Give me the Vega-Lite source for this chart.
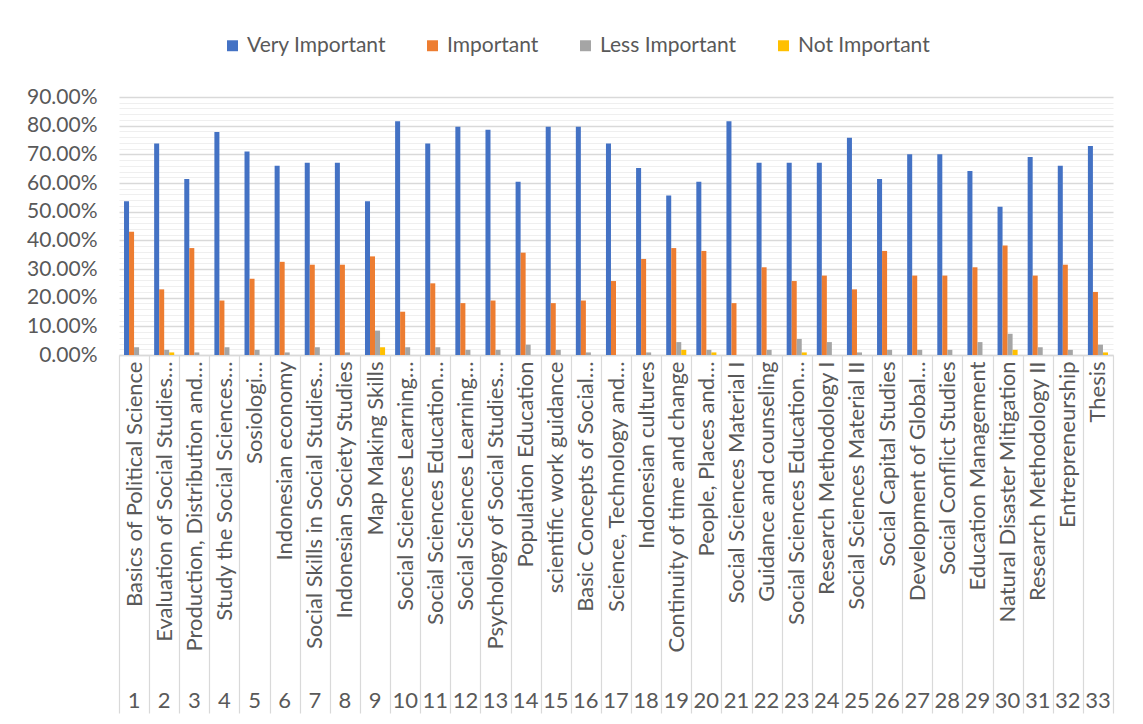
{
  "$schema": "https://vega.github.io/schema/vega-lite/v6.json",
  "width": 994,
  "height": 258,
  "autosize": "none",
  "padding": {"left": 119, "top": 97, "right": 30, "bottom": 369},
  "background": "white",
  "config": {
    "font": "Lato",
    "view": {"stroke": null},
    "axis": {"labelColor": "#595959", "labelFont": "Lato", "title": null}
  },
  "datasets": {
    "ratings": [
      {"no": 1, "key": "1|Basics of Political Science", "level": "Very Important", "share": 0.536},
      {"no": 1, "key": "1|Basics of Political Science", "level": "Important", "share": 0.430},
      {"no": 1, "key": "1|Basics of Political Science", "level": "Less Important", "share": 0.027},
      {"no": 1, "key": "1|Basics of Political Science", "level": "Not Important", "share": 0},
      {"no": 2, "key": "2|Evaluation of Social Studies…", "level": "Very Important", "share": 0.738},
      {"no": 2, "key": "2|Evaluation of Social Studies…", "level": "Important", "share": 0.229},
      {"no": 2, "key": "2|Evaluation of Social Studies…", "level": "Less Important", "share": 0.018},
      {"no": 2, "key": "2|Evaluation of Social Studies…", "level": "Not Important", "share": 0.009},
      {"no": 3, "key": "3|Production, Distribution and…", "level": "Very Important", "share": 0.614},
      {"no": 3, "key": "3|Production, Distribution and…", "level": "Important", "share": 0.373},
      {"no": 3, "key": "3|Production, Distribution and…", "level": "Less Important", "share": 0.009},
      {"no": 3, "key": "3|Production, Distribution and…", "level": "Not Important", "share": 0},
      {"no": 4, "key": "4|Study the Social Sciences…", "level": "Very Important", "share": 0.778},
      {"no": 4, "key": "4|Study the Social Sciences…", "level": "Important", "share": 0.190},
      {"no": 4, "key": "4|Study the Social Sciences…", "level": "Less Important", "share": 0.027},
      {"no": 4, "key": "4|Study the Social Sciences…", "level": "Not Important", "share": 0},
      {"no": 5, "key": "5|Sosiologi…", "level": "Very Important", "share": 0.710},
      {"no": 5, "key": "5|Sosiologi…", "level": "Important", "share": 0.266},
      {"no": 5, "key": "5|Sosiologi…", "level": "Less Important", "share": 0.018},
      {"no": 5, "key": "5|Sosiologi…", "level": "Not Important", "share": 0},
      {"no": 6, "key": "6|Indonesian economy", "level": "Very Important", "share": 0.660},
      {"no": 6, "key": "6|Indonesian economy", "level": "Important", "share": 0.325},
      {"no": 6, "key": "6|Indonesian economy", "level": "Less Important", "share": 0.009},
      {"no": 6, "key": "6|Indonesian economy", "level": "Not Important", "share": 0},
      {"no": 7, "key": "7|Social Skills in Social Studies…", "level": "Very Important", "share": 0.671},
      {"no": 7, "key": "7|Social Skills in Social Studies…", "level": "Important", "share": 0.315},
      {"no": 7, "key": "7|Social Skills in Social Studies…", "level": "Less Important", "share": 0.027},
      {"no": 7, "key": "7|Social Skills in Social Studies…", "level": "Not Important", "share": 0},
      {"no": 8, "key": "8|Indonesian Society Studies", "level": "Very Important", "share": 0.671},
      {"no": 8, "key": "8|Indonesian Society Studies", "level": "Important", "share": 0.315},
      {"no": 8, "key": "8|Indonesian Society Studies", "level": "Less Important", "share": 0.009},
      {"no": 8, "key": "8|Indonesian Society Studies", "level": "Not Important", "share": 0},
      {"no": 9, "key": "9|Map Making Skills", "level": "Very Important", "share": 0.536},
      {"no": 9, "key": "9|Map Making Skills", "level": "Important", "share": 0.344},
      {"no": 9, "key": "9|Map Making Skills", "level": "Less Important", "share": 0.085},
      {"no": 9, "key": "9|Map Making Skills", "level": "Not Important", "share": 0.027},
      {"no": 10, "key": "10|Social Sciences Learning…", "level": "Very Important", "share": 0.815},
      {"no": 10, "key": "10|Social Sciences Learning…", "level": "Important", "share": 0.151},
      {"no": 10, "key": "10|Social Sciences Learning…", "level": "Less Important", "share": 0.027},
      {"no": 10, "key": "10|Social Sciences Learning…", "level": "Not Important", "share": 0},
      {"no": 11, "key": "11|Social Sciences Education…", "level": "Very Important", "share": 0.738},
      {"no": 11, "key": "11|Social Sciences Education…", "level": "Important", "share": 0.250},
      {"no": 11, "key": "11|Social Sciences Education…", "level": "Less Important", "share": 0.027},
      {"no": 11, "key": "11|Social Sciences Education…", "level": "Not Important", "share": 0},
      {"no": 12, "key": "12|Social Sciences Learning…", "level": "Very Important", "share": 0.796},
      {"no": 12, "key": "12|Social Sciences Learning…", "level": "Important", "share": 0.181},
      {"no": 12, "key": "12|Social Sciences Learning…", "level": "Less Important", "share": 0.018},
      {"no": 12, "key": "12|Social Sciences Learning…", "level": "Not Important", "share": 0},
      {"no": 13, "key": "13|Psychology of Social Studies…", "level": "Very Important", "share": 0.786},
      {"no": 13, "key": "13|Psychology of Social Studies…", "level": "Important", "share": 0.190},
      {"no": 13, "key": "13|Psychology of Social Studies…", "level": "Less Important", "share": 0.018},
      {"no": 13, "key": "13|Psychology of Social Studies…", "level": "Not Important", "share": 0},
      {"no": 14, "key": "14|Population Education", "level": "Very Important", "share": 0.604},
      {"no": 14, "key": "14|Population Education", "level": "Important", "share": 0.357},
      {"no": 14, "key": "14|Population Education", "level": "Less Important", "share": 0.036},
      {"no": 14, "key": "14|Population Education", "level": "Not Important", "share": 0},
      {"no": 15, "key": "15|scientific work guidance", "level": "Very Important", "share": 0.796},
      {"no": 15, "key": "15|scientific work guidance", "level": "Important", "share": 0.181},
      {"no": 15, "key": "15|scientific work guidance", "level": "Less Important", "share": 0.018},
      {"no": 15, "key": "15|scientific work guidance", "level": "Not Important", "share": 0},
      {"no": 16, "key": "16|Basic Concepts of Social…", "level": "Very Important", "share": 0.796},
      {"no": 16, "key": "16|Basic Concepts of Social…", "level": "Important", "share": 0.190},
      {"no": 16, "key": "16|Basic Concepts of Social…", "level": "Less Important", "share": 0.009},
      {"no": 16, "key": "16|Basic Concepts of Social…", "level": "Not Important", "share": 0},
      {"no": 17, "key": "17|Science, Technology and…", "level": "Very Important", "share": 0.738},
      {"no": 17, "key": "17|Science, Technology and…", "level": "Important", "share": 0.258},
      {"no": 17, "key": "17|Science, Technology and…", "level": "Less Important", "share": 0},
      {"no": 17, "key": "17|Science, Technology and…", "level": "Not Important", "share": 0},
      {"no": 18, "key": "18|Indonesian cultures", "level": "Very Important", "share": 0.652},
      {"no": 18, "key": "18|Indonesian cultures", "level": "Important", "share": 0.335},
      {"no": 18, "key": "18|Indonesian cultures", "level": "Less Important", "share": 0.009},
      {"no": 18, "key": "18|Indonesian cultures", "level": "Not Important", "share": 0},
      {"no": 19, "key": "19|Continuity of time and change", "level": "Very Important", "share": 0.556},
      {"no": 19, "key": "19|Continuity of time and change", "level": "Important", "share": 0.373},
      {"no": 19, "key": "19|Continuity of time and change", "level": "Less Important", "share": 0.045},
      {"no": 19, "key": "19|Continuity of time and change", "level": "Not Important", "share": 0.018},
      {"no": 20, "key": "20|People, Places and…", "level": "Very Important", "share": 0.604},
      {"no": 20, "key": "20|People, Places and…", "level": "Important", "share": 0.363},
      {"no": 20, "key": "20|People, Places and…", "level": "Less Important", "share": 0.018},
      {"no": 20, "key": "20|People, Places and…", "level": "Not Important", "share": 0.009},
      {"no": 21, "key": "21|Social Sciences Material I", "level": "Very Important", "share": 0.815},
      {"no": 21, "key": "21|Social Sciences Material I", "level": "Important", "share": 0.181},
      {"no": 21, "key": "21|Social Sciences Material I", "level": "Less Important", "share": 0},
      {"no": 21, "key": "21|Social Sciences Material I", "level": "Not Important", "share": 0},
      {"no": 22, "key": "22|Guidance and counseling", "level": "Very Important", "share": 0.671},
      {"no": 22, "key": "22|Guidance and counseling", "level": "Important", "share": 0.306},
      {"no": 22, "key": "22|Guidance and counseling", "level": "Less Important", "share": 0.018},
      {"no": 22, "key": "22|Guidance and counseling", "level": "Not Important", "share": 0},
      {"no": 23, "key": "23|Social Sciences Education…", "level": "Very Important", "share": 0.671},
      {"no": 23, "key": "23|Social Sciences Education…", "level": "Important", "share": 0.258},
      {"no": 23, "key": "23|Social Sciences Education…", "level": "Less Important", "share": 0.056},
      {"no": 23, "key": "23|Social Sciences Education…", "level": "Not Important", "share": 0.009},
      {"no": 24, "key": "24|Research Methodology I", "level": "Very Important", "share": 0.671},
      {"no": 24, "key": "24|Research Methodology I", "level": "Important", "share": 0.277},
      {"no": 24, "key": "24|Research Methodology I", "level": "Less Important", "share": 0.045},
      {"no": 24, "key": "24|Research Methodology I", "level": "Not Important", "share": 0},
      {"no": 25, "key": "25|Social Sciences Material II", "level": "Very Important", "share": 0.758},
      {"no": 25, "key": "25|Social Sciences Material II", "level": "Important", "share": 0.229},
      {"no": 25, "key": "25|Social Sciences Material II", "level": "Less Important", "share": 0.009},
      {"no": 25, "key": "25|Social Sciences Material II", "level": "Not Important", "share": 0},
      {"no": 26, "key": "26|Social Capital Studies", "level": "Very Important", "share": 0.614},
      {"no": 26, "key": "26|Social Capital Studies", "level": "Important", "share": 0.363},
      {"no": 26, "key": "26|Social Capital Studies", "level": "Less Important", "share": 0.018},
      {"no": 26, "key": "26|Social Capital Studies", "level": "Not Important", "share": 0},
      {"no": 27, "key": "27|Development of Global…", "level": "Very Important", "share": 0.700},
      {"no": 27, "key": "27|Development of Global…", "level": "Important", "share": 0.277},
      {"no": 27, "key": "27|Development of Global…", "level": "Less Important", "share": 0.018},
      {"no": 27, "key": "27|Development of Global…", "level": "Not Important", "share": 0},
      {"no": 28, "key": "28|Social Conflict Studies", "level": "Very Important", "share": 0.700},
      {"no": 28, "key": "28|Social Conflict Studies", "level": "Important", "share": 0.277},
      {"no": 28, "key": "28|Social Conflict Studies", "level": "Less Important", "share": 0.018},
      {"no": 28, "key": "28|Social Conflict Studies", "level": "Not Important", "share": 0},
      {"no": 29, "key": "29|Education Management", "level": "Very Important", "share": 0.642},
      {"no": 29, "key": "29|Education Management", "level": "Important", "share": 0.306},
      {"no": 29, "key": "29|Education Management", "level": "Less Important", "share": 0.045},
      {"no": 29, "key": "29|Education Management", "level": "Not Important", "share": 0},
      {"no": 30, "key": "30|Natural Disaster Mitigation", "level": "Very Important", "share": 0.517},
      {"no": 30, "key": "30|Natural Disaster Mitigation", "level": "Important", "share": 0.382},
      {"no": 30, "key": "30|Natural Disaster Mitigation", "level": "Less Important", "share": 0.074},
      {"no": 30, "key": "30|Natural Disaster Mitigation", "level": "Not Important", "share": 0.018},
      {"no": 31, "key": "31|Research Methodology II", "level": "Very Important", "share": 0.691},
      {"no": 31, "key": "31|Research Methodology II", "level": "Important", "share": 0.277},
      {"no": 31, "key": "31|Research Methodology II", "level": "Less Important", "share": 0.027},
      {"no": 31, "key": "31|Research Methodology II", "level": "Not Important", "share": 0},
      {"no": 32, "key": "32|Entrepreneurship", "level": "Very Important", "share": 0.660},
      {"no": 32, "key": "32|Entrepreneurship", "level": "Important", "share": 0.315},
      {"no": 32, "key": "32|Entrepreneurship", "level": "Less Important", "share": 0.018},
      {"no": 32, "key": "32|Entrepreneurship", "level": "Not Important", "share": 0},
      {"no": 33, "key": "33|Thesis", "level": "Very Important", "share": 0.729},
      {"no": 33, "key": "33|Thesis", "level": "Important", "share": 0.220},
      {"no": 33, "key": "33|Thesis", "level": "Less Important", "share": 0.036},
      {"no": 33, "key": "33|Thesis", "level": "Not Important", "share": 0.009}
    ]
  },
  "data": {"name": "ratings"},
  "layer": [
    {
      "mark": {"type": "bar"},
      "encoding": {
        "x": {
          "field": "key",
          "type": "nominal",
          "sort": {"field": "no", "op": "min"},
          "scale": {"paddingInner": 0, "paddingOuter": 0},
          "axis": {
            "orient": "bottom",
            "labelAngle": 270,
            "labelAlign": "right",
            "labelBaseline": "middle",
            "labelFontSize": 22,
            "labelLimit": 400,
            "labelPadding": -352,
            "labelOverlap": false,
            "labelExpr": "split(datum.value, '|')[1]",
            "domainColor": "#d9d9d9",
            "domainWidth": 1.5,
            "ticks": true,
            "tickBand": "extent",
            "tickSize": 358,
            "tickColor": "#d9d9d9",
            "tickWidth": 1.2,
            "grid": false
          }
        },
        "xOffset": {
          "field": "level",
          "type": "nominal",
          "sort": ["Very Important", "Important", "Less Important", "Not Important"],
          "scale": {"paddingOuter": 1, "paddingInner": 0}
        },
        "y": {
          "field": "share",
          "type": "quantitative",
          "scale": {"domain": [0, 0.9], "nice": false},
          "axis": {
            "values": [0, 0.02, 0.04, 0.06, 0.08, 0.1, 0.12, 0.14, 0.16, 0.18, 0.2, 0.22, 0.24, 0.26, 0.28, 0.3, 0.32, 0.34, 0.36, 0.38, 0.4, 0.42, 0.44, 0.46, 0.48, 0.5, 0.52, 0.54, 0.56, 0.58, 0.6, 0.62, 0.64, 0.66, 0.68, 0.7, 0.72, 0.74, 0.76, 0.78, 0.8, 0.82, 0.84, 0.86, 0.88, 0.9],
            "labelExpr": "round(datum.value * 50) % 5 === 0 ? format(datum.value, '.2%') : ''",
            "labelFontSize": 21,
            "labelPadding": 22,
            "labelOverlap": false,
            "labelBound": false,
            "domain": false,
            "ticks": false,
            "grid": true,
            "gridColor": {"condition": {"test": "round(datum.value * 50) % 5 === 0", "value": "#d9d9d9"}, "value": "#efefef"},
            "gridWidth": {"condition": {"test": "round(datum.value * 50) % 5 === 0", "value": 1.5}, "value": 1}
          }
        },
        "color": {
          "field": "level",
          "type": "nominal",
          "sort": ["Very Important", "Important", "Less Important", "Not Important"],
          "scale": {
            "domain": ["Very Important", "Important", "Less Important", "Not Important"],
            "range": ["#4472c4", "#ed7d31", "#a5a5a5", "#ffc000"]
          },
          "legend": {
            "title": null,
            "orient": "none",
            "direction": "horizontal",
            "legendX": 103,
            "legendY": -62,
            "symbolType": "square",
            "symbolSize": 120,
            "symbolStrokeWidth": 0,
            "labelFontSize": 21,
            "labelColor": "#595959",
            "labelOffset": 4,
            "columnPadding": 36,
            "labelLimit": 300
          }
        }
      }
    },
    {
      "mark": {"type": "tick", "opacity": 0},
      "encoding": {
        "x": {
          "field": "key",
          "type": "nominal",
          "sort": {"field": "no", "op": "min"},
          "axis": {
            "orient": "bottom",
            "labelAngle": 0,
            "labelAlign": "center",
            "labelBaseline": "middle",
            "labelFontSize": 22,
            "labelPadding": 345,
            "labelOverlap": false,
            "labelExpr": "split(datum.value, '|')[0]",
            "domain": false,
            "ticks": false,
            "grid": false
          }
        }
      }
    }
  ],
  "resolve": {"scale": {"x": "shared"}, "axis": {"x": "independent"}}
}
